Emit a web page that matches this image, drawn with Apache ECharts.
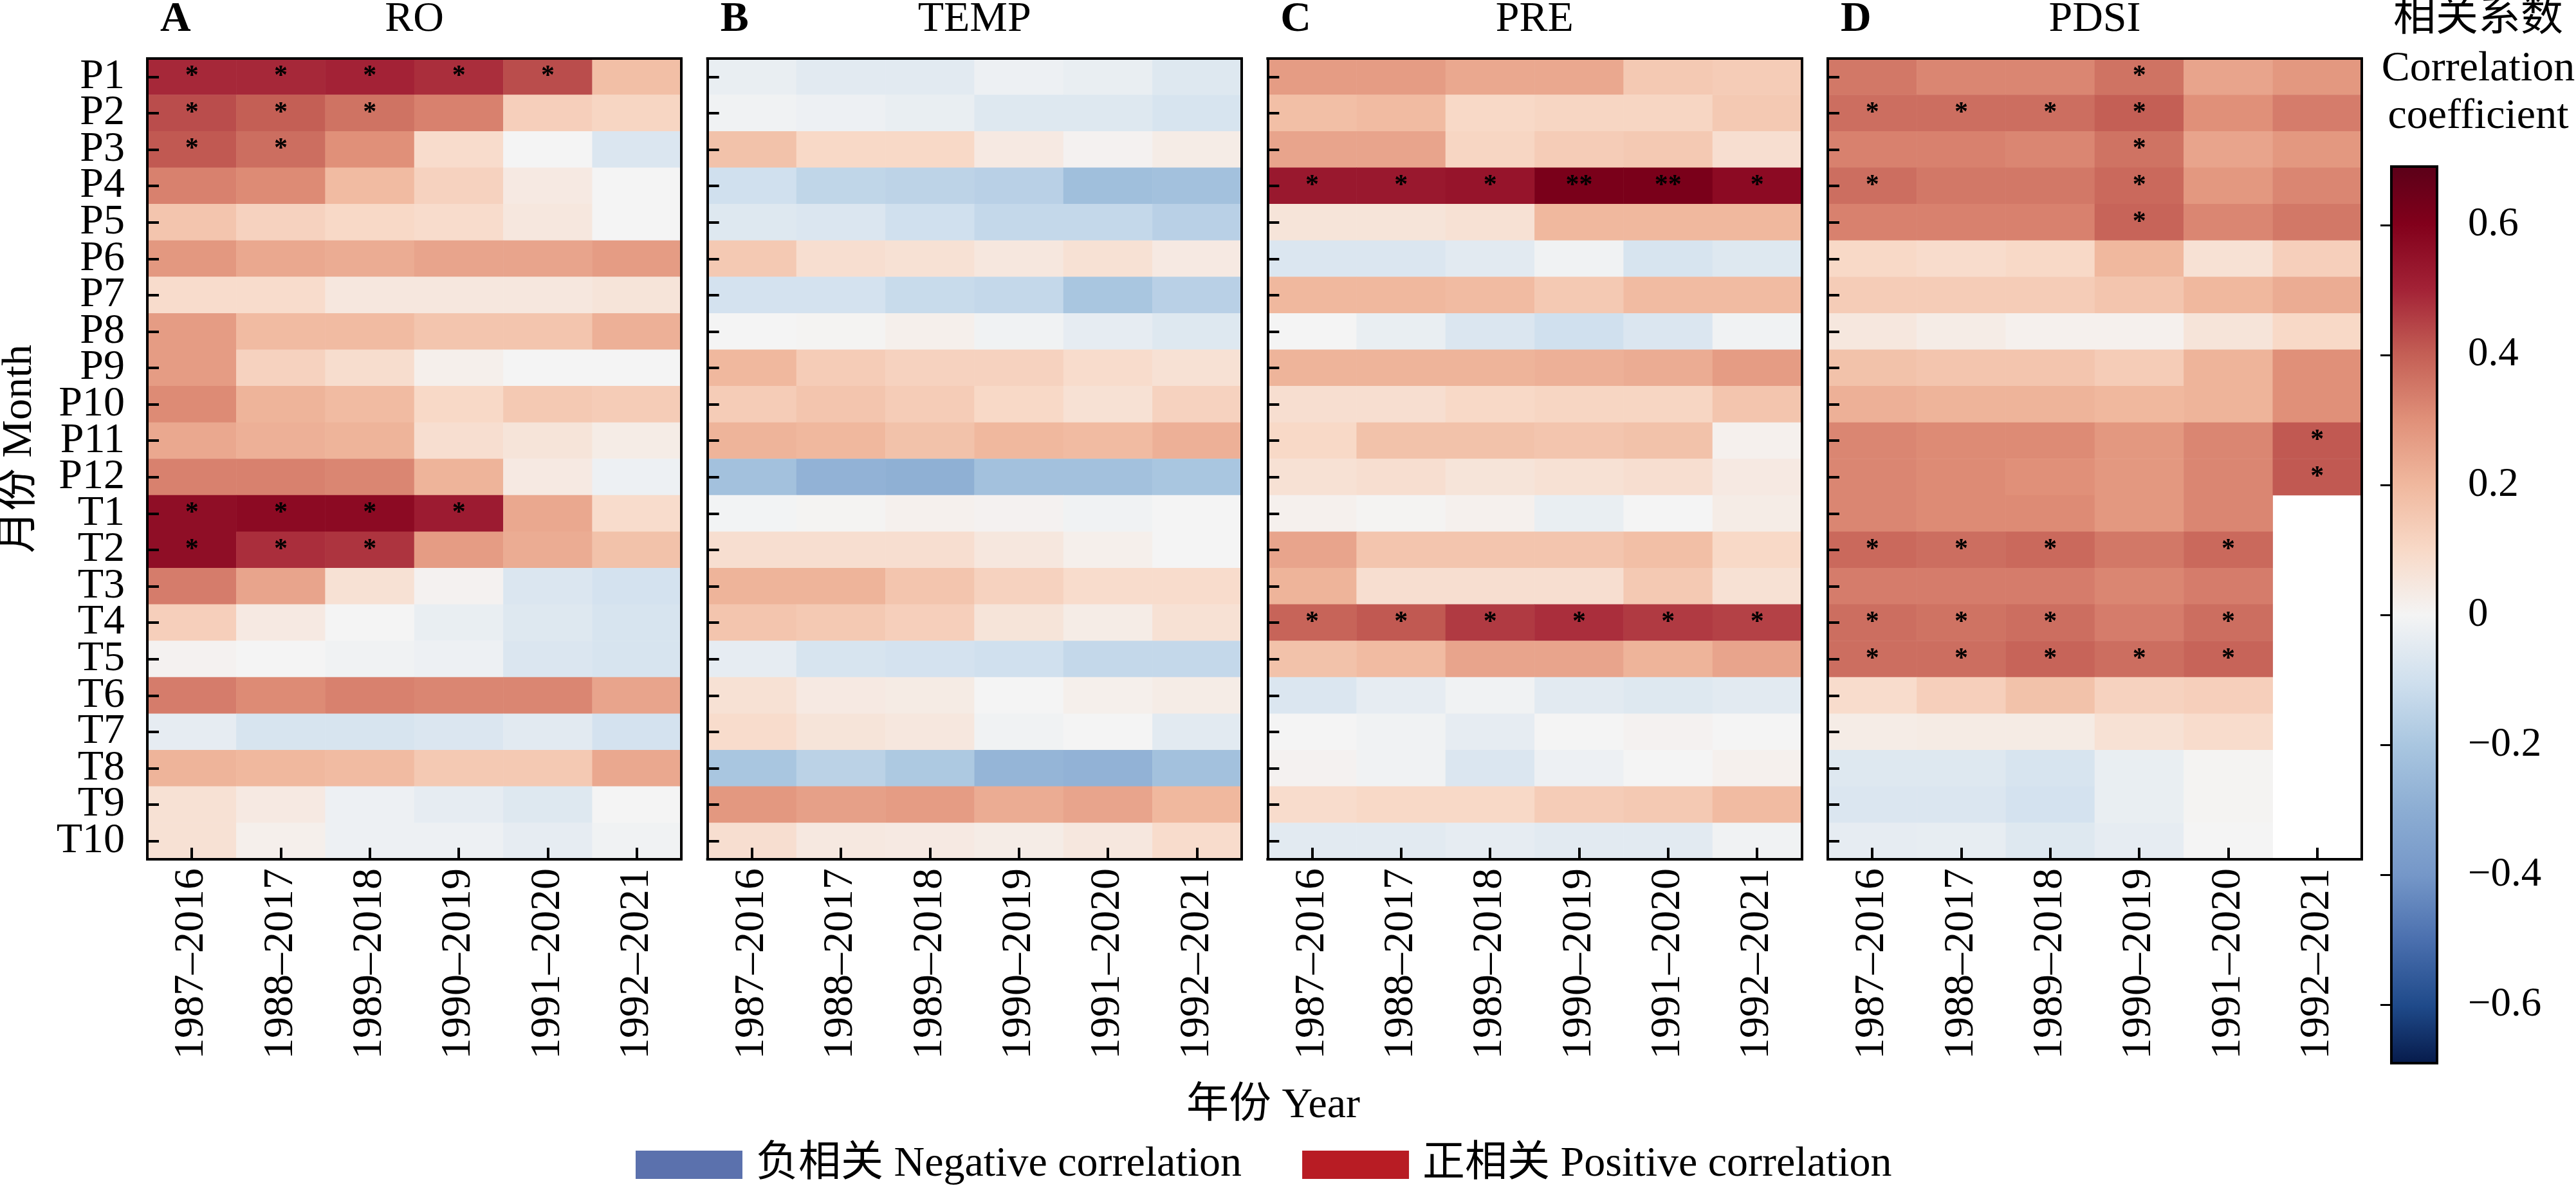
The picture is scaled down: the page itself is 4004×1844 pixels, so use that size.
<!DOCTYPE html>
<html><head><meta charset="utf-8">
<script src="https://cdn.jsdelivr.net/npm/echarts@6/dist/echarts.min.js"></script>
<style>html,body{margin:0;padding:0;background:#fff;}#c{width:4004px;height:1844px;}</style>
</head><body><div id="c"></div>
<script>
// ---------- data ----------
const months = ['P1','P2','P3','P4','P5','P6','P7','P8','P9','P10','P11','P12','T1','T2','T3','T4','T5','T6','T7','T8','T9','T10'];
const windows = ['1987–2016','1988–2017','1989–2018','1990–2019','1991–2020','1992–2021'];
const panelNames = ['RO','TEMP','PRE','PDSI'];
const panelLetters = ['A','B','C','D'];

const roValues = [
  [0.49,0.49,0.50,0.48,0.43,0.18],
  [0.43,0.40,0.36,0.33,0.13,0.11],
  [0.41,0.37,0.30,0.09,0.00,-0.07],
  [0.33,0.31,0.19,0.12,0.04,0.00],
  [0.16,0.12,0.10,0.09,0.05,0.00],
  [0.28,0.24,0.23,0.25,0.25,0.27],
  [0.09,0.09,0.05,0.05,0.05,0.06],
  [0.27,0.19,0.19,0.16,0.16,0.22],
  [0.27,0.12,0.085,0.02,0.00,0.00],
  [0.31,0.21,0.19,0.10,0.15,0.14],
  [0.24,0.22,0.21,0.08,0.06,0.03],
  [0.33,0.33,0.32,0.21,0.04,-0.02],
  [0.56,0.57,0.57,0.52,0.24,0.09],
  [0.56,0.48,0.47,0.27,0.23,0.17],
  [0.34,0.25,0.07,0.01,-0.07,-0.09],
  [0.13,0.04,0.00,-0.03,-0.06,-0.08],
  [0.01,0.00,-0.01,-0.02,-0.07,-0.08],
  [0.34,0.31,0.33,0.32,0.32,0.25],
  [-0.04,-0.08,-0.08,-0.07,-0.05,-0.09],
  [0.21,0.20,0.19,0.15,0.15,0.24],
  [0.07,0.04,-0.02,-0.04,-0.06,0.00],
  [0.07,0.02,-0.02,-0.02,-0.04,-0.01]
];
const tempValues = [
  [-0.03,-0.05,-0.05,-0.02,-0.03,-0.06],
  [-0.01,-0.02,-0.03,-0.06,-0.06,-0.08],
  [0.17,0.10,0.10,0.04,0.01,0.03],
  [-0.10,-0.14,-0.15,-0.16,-0.23,-0.22],
  [-0.06,-0.07,-0.10,-0.13,-0.13,-0.16],
  [0.15,0.08,0.07,0.05,0.07,0.04],
  [-0.09,-0.09,-0.12,-0.13,-0.20,-0.16],
  [0.00,0.005,0.02,-0.01,-0.04,-0.06],
  [0.20,0.14,0.12,0.12,0.09,0.07],
  [0.14,0.16,0.14,0.10,0.07,0.12],
  [0.21,0.20,0.17,0.20,0.19,0.22],
  [-0.22,-0.28,-0.29,-0.22,-0.22,-0.20],
  [-0.005,0.005,0.015,0.01,-0.01,0.00],
  [0.08,0.08,0.08,0.05,0.02,0.00],
  [0.21,0.21,0.16,0.12,0.09,0.09],
  [0.16,0.15,0.13,0.06,0.03,0.07],
  [-0.04,-0.08,-0.09,-0.10,-0.13,-0.13],
  [0.07,0.04,0.035,0.00,0.02,0.03],
  [0.09,0.06,0.05,-0.01,0.00,-0.05],
  [-0.20,-0.155,-0.19,-0.27,-0.28,-0.22],
  [0.28,0.26,0.27,0.23,0.25,0.20],
  [0.08,0.045,0.04,0.03,0.05,0.09]
];
const preValues = [
  [0.27,0.27,0.24,0.24,0.15,0.14],
  [0.18,0.19,0.10,0.11,0.11,0.15],
  [0.25,0.25,0.11,0.14,0.15,0.08],
  [0.53,0.53,0.54,0.62,0.62,0.57],
  [0.06,0.06,0.07,0.20,0.20,0.20],
  [-0.07,-0.07,-0.05,-0.01,-0.08,-0.06],
  [0.20,0.20,0.19,0.15,0.19,0.19],
  [0.00,-0.03,-0.07,-0.10,-0.07,-0.01],
  [0.21,0.21,0.21,0.22,0.23,0.27],
  [0.08,0.08,0.10,0.11,0.11,0.16],
  [0.10,0.17,0.17,0.16,0.17,0.015],
  [0.07,0.08,0.06,0.07,0.08,0.04],
  [0.015,0.005,0.015,-0.03,0.00,0.03],
  [0.25,0.16,0.16,0.16,0.18,0.10],
  [0.21,0.08,0.08,0.08,0.15,0.07],
  [0.39,0.41,0.46,0.48,0.46,0.45],
  [0.17,0.19,0.25,0.25,0.21,0.25],
  [-0.07,-0.04,-0.01,-0.05,-0.06,-0.05],
  [0.00,-0.01,-0.04,0.00,0.01,0.00],
  [0.01,-0.01,-0.07,-0.02,0.00,0.015],
  [0.09,0.10,0.10,0.14,0.15,0.19],
  [-0.05,-0.05,-0.04,-0.05,-0.05,-0.01]
];
const pdsiValues = [
  [0.35,0.32,0.32,0.36,0.25,0.28],
  [0.37,0.37,0.37,0.40,0.30,0.34],
  [0.33,0.33,0.32,0.36,0.25,0.28],
  [0.37,0.35,0.35,0.38,0.28,0.32],
  [0.33,0.33,0.33,0.39,0.32,0.35],
  [0.10,0.09,0.10,0.20,0.07,0.13],
  [0.14,0.14,0.14,0.16,0.20,0.23],
  [0.05,0.03,0.015,0.015,0.06,0.10],
  [0.17,0.16,0.16,0.14,0.21,0.30],
  [0.22,0.21,0.21,0.20,0.21,0.30],
  [0.32,0.31,0.31,0.28,0.32,0.41],
  [0.32,0.31,0.30,0.28,0.32,0.41],
  [0.32,0.31,0.31,0.28,0.32,null],
  [0.38,0.37,0.38,0.35,0.38,null],
  [0.34,0.34,0.34,0.32,0.34,null],
  [0.37,0.36,0.37,0.34,0.37,null],
  [0.37,0.37,0.39,0.37,0.39,null],
  [0.09,0.13,0.17,0.12,0.13,null],
  [0.03,0.035,0.035,0.07,0.09,null],
  [-0.06,-0.06,-0.08,-0.03,0.005,null],
  [-0.07,-0.07,-0.09,-0.03,0.005,null],
  [-0.04,-0.035,-0.06,-0.04,0.00,null]
];

// significance marks: [month, window index, mark]
const roSig = [['P1',0,'*'],['P1',1,'*'],['P1',2,'*'],['P1',3,'*'],['P1',4,'*'],
  ['P2',0,'*'],['P2',1,'*'],['P2',2,'*'],['P3',0,'*'],['P3',1,'*'],
  ['T1',0,'*'],['T1',1,'*'],['T1',2,'*'],['T1',3,'*'],['T2',0,'*'],['T2',1,'*'],['T2',2,'*']];
const tempSig = [];
const preSig = [['P4',0,'*'],['P4',1,'*'],['P4',2,'*'],['P4',3,'**'],['P4',4,'**'],['P4',5,'*'],
  ['T4',0,'*'],['T4',1,'*'],['T4',2,'*'],['T4',3,'*'],['T4',4,'*'],['T4',5,'*']];
const pdsiSig = [['P1',3,'*'],['P2',0,'*'],['P2',1,'*'],['P2',2,'*'],['P2',3,'*'],['P3',3,'*'],
  ['P4',0,'*'],['P4',3,'*'],['P5',3,'*'],['P11',5,'*'],['P12',5,'*'],
  ['T2',0,'*'],['T2',1,'*'],['T2',2,'*'],['T2',4,'*'],
  ['T4',0,'*'],['T4',1,'*'],['T4',2,'*'],['T4',4,'*'],
  ['T5',0,'*'],['T5',1,'*'],['T5',2,'*'],['T5',3,'*'],['T5',4,'*']];

// colour scale (value -> colour), evenly spaced from -0.7 to 0.7
const scaleMin = -0.7, scaleMax = 0.7;
const scaleColors = ['#061a4a','#1f4a8a','#4a6fae','#7597c8','#8cadd3','#a9c6e0','#d0e0ee','#f4f4f4',
  '#f8d9c7','#f0b89e','#e09079','#c45f55','#a32236','#82001b','#5a0018'];
const colorbarMin = -0.69, colorbarMax = 0.69;
const legendNames = ['负相关 Negative correlation','正相关 Positive correlation'];
const legendColors = ['#5b71ad','#b81c24'];

// ---------- chart ----------
const FONT = "'Liberation Serif','Times New Roman','Noto Sans CJK SC',serif";
const CJK = "'Liberation Serif','Noto Sans CJK SC',serif";
const panels = [roValues,tempValues,preValues,pdsiValues];
const sigs = [roSig,tempSig,preSig,pdsiSig];
const L0 = 229, STEP = (2841-229)/3, W = 830, TOP = 91, H = 1245;

function buildData(vals, sig){
  const marks = {};
  sig.forEach(s => { marks[s[0]+'|'+s[1]] = s[2]; });
  const out = [];
  vals.forEach((row, ri) => row.forEach((v, ci) => {
    if (v !== null) out.push([ci, ri, v, marks[months[ri]+'|'+ci] || '']);
  }));
  return out;
}

const grid = [], xAxis = [], yAxis = [], series = [], graphic = [];
const line = {show:true, lineStyle:{color:'#000', width:4, cap:'square'}};
for (let i = 0; i < 4; i++) {
  const left = L0 + i*STEP;
  grid.push({left:left, top:TOP, width:W, height:H, containLabel:false});
  xAxis.push({type:'category', gridIndex:i, data:windows, position:'bottom', z:10,
    axisLine:line,
    axisTick:{show:true, inside:true, alignWithLabel:true, length:18, lineStyle:{color:'#000', width:4}},
    axisLabel:{show:true, interval:0, rotate:90, margin:14, fontSize:66, color:'#000', fontFamily:FONT},
    splitLine:{show:false}});
  xAxis.push({type:'category', gridIndex:i, data:windows, position:'top', z:10,
    axisLine:line, axisTick:{show:false}, axisLabel:{show:false}, splitLine:{show:false}});
  yAxis.push({type:'category', gridIndex:i, data:months, inverse:true, position:'left', z:10,
    axisLine:line,
    axisTick:{show:true, inside:true, alignWithLabel:true, length:18, lineStyle:{color:'#000', width:4}},
    axisLabel:{show:i===0, interval:0, margin:35, fontSize:66, color:'#000', fontFamily:FONT},
    splitLine:{show:false}});
  yAxis.push({type:'category', gridIndex:i, data:months, inverse:true, position:'right', z:10,
    axisLine:line, axisTick:{show:false}, axisLabel:{show:false}, splitLine:{show:false}});
  series.push({type:'heatmap', name:panelNames[i], xAxisIndex:2*i, yAxisIndex:2*i,
    data:buildData(panels[i], sigs[i]),
    itemStyle:{borderWidth:0},
    emphasis:{disabled:true},
    label:{show:true, formatter:p => p.data[3], fontSize:42, fontWeight:'bold', color:'#000', fontFamily:FONT}});
  graphic.push({type:'text', x:left+20, y:31, z:20,
    style:{text:panelLetters[i], fontSize:66, fontWeight:'bold', fontFamily:FONT, fill:'#000',
      align:'left', verticalAlign:'middle', textAlign:'left', textVerticalAlign:'middle'}});
  graphic.push({type:'text', x:left+W/2, y:31, z:20,
    style:{text:panelNames[i], fontSize:66, fontFamily:FONT, fill:'#000',
      align:'center', verticalAlign:'middle', textAlign:'center', textVerticalAlign:'middle'}});
}

// colour bar axis
const cbLeft = 3717, cbWidth = 71, cbTop = 259, cbHeight = 1394;
const pxPerUnit = cbHeight/(colorbarMax-colorbarMin);
const tickMin = -0.6, tickMax = 0.6;
grid.push({left:cbLeft, width:cbWidth, top:cbTop + (colorbarMax-tickMax)*pxPerUnit,
  height:(tickMax-tickMin)*pxPerUnit});
xAxis.push({type:'value', gridIndex:4, show:false, min:0, max:1});
yAxis.push({type:'value', gridIndex:4, min:tickMin, max:tickMax, interval:0.2, position:'right', z:10,
  axisLine:{show:false},
  axisTick:{show:true, inside:true, length:17, lineStyle:{color:'#000', width:3}},
  axisLabel:{show:true, margin:48, fontSize:63, color:'#000', fontFamily:FONT,
    formatter:v => Math.abs(v) < 1e-9 ? '0' : (v < 0 ? '\u2212' : '') + Math.abs(v).toFixed(1)},
  splitLine:{show:false}});

const stops = scaleColors.map((c, k) => {
  const v = scaleMin + k*(scaleMax-scaleMin)/(scaleColors.length-1);
  let off = (colorbarMax - v)/(colorbarMax-colorbarMin);
  off = Math.max(0, Math.min(1, off));
  return {offset:off, color:c};
}).sort((a,b) => a.offset-b.offset);
graphic.push({type:'rect', z:1, shape:{x:cbLeft, y:cbTop, width:cbWidth, height:cbHeight},
  style:{fill:new echarts.graphic.LinearGradient(0,0,0,1,stops), stroke:'#000', lineWidth:4}});

// texts
const txt = (t, x, y, extra) => Object.assign({type:'text', x:x, y:y, z:20,
  style:{text:t, fontSize:66, fontFamily:CJK, fill:'#000', align:'center', verticalAlign:'middle',
    textAlign:'center', textVerticalAlign:'middle'}}, extra || {});
graphic.push(txt('相关系数', 3852, 30));
graphic.push(txt('Correlation', 3852, 108));
graphic.push(txt('coefficient', 3852, 182));
graphic.push(txt('年份 Year', 1979, 1720));
graphic.push(txt('月份 Month', 31, 698, {rotation:Math.PI/2}));

// legend dummy series
legendNames.forEach((n, k) => series.push({type:'bar', name:n, data:[], xAxisIndex:0, yAxisIndex:0,
  itemStyle:{color:legendColors[k]}}));

const chart = echarts.init(document.getElementById('c'), null, {renderer:'canvas'});
chart.setOption({
  animation:false,
  backgroundColor:'#fff',
  textStyle:{fontFamily:FONT},
  grid:grid, xAxis:xAxis, yAxis:yAxis, series:series, graphic:graphic,
  visualMap:{type:'continuous', show:false, min:scaleMin, max:scaleMax, dimension:2,
    seriesIndex:[0,1,2,3], inRange:{color:scaleColors}},
  legend:{data:legendNames, left:988, top:1778, padding:0, itemWidth:166, itemHeight:44, itemGap:94,
    icon:'rect', selectedMode:false,
    textStyle:{fontSize:66, fontFamily:CJK, color:'#000', padding:[0,0,0,16], lineHeight:66}}
});
</script></body></html>
